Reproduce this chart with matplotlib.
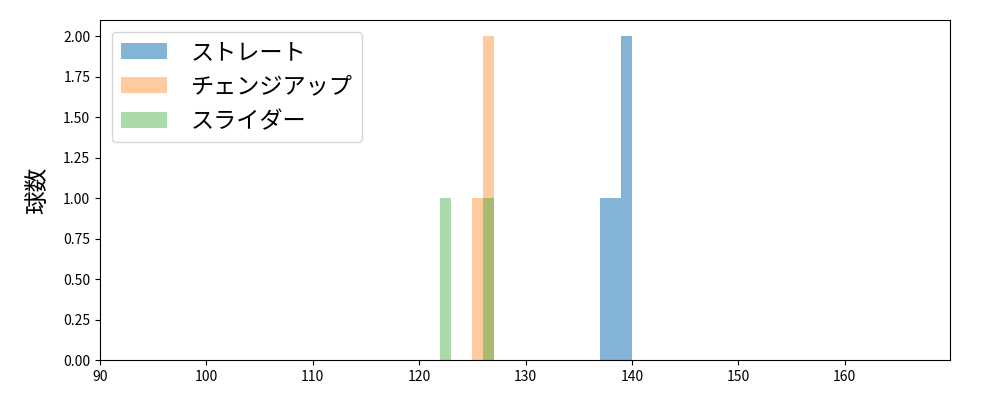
import numpy as np
import matplotlib
matplotlib.use("Agg")
import matplotlib.pyplot as plt

plt.rcParams['font.family'] = ['Noto Sans CJK JP', 'DejaVu Sans']

# pitch speeds (km/h) by pitch type
pitch_names = ["ストレート", "チェンジアップ", "スライダー"]
straight = [137.5, 138.5, 139.5, 139.6]
changeup = [125.5, 126.5, 126.6]
slider = [122.5, 126.5]
alphas = [0.55, 0.4, 0.4]

bins = np.arange(90, 171, 1)

fig, ax = plt.subplots(figsize=(10, 4), dpi=100)
for vals, name, a in zip([straight, changeup, slider], pitch_names, alphas):
    ax.hist(vals, bins=bins, alpha=a, label=name)

ax.set_xlim(90, 169.9)
ax.set_ylabel("球数", fontsize=17, labelpad=10)
ax.set_yticks(np.arange(0, 2.01, 0.25))
ax.legend(fontsize=16.7, loc="upper left", handletextpad=1.0)
fig.subplots_adjust(left=0.1, right=0.95, top=0.95, bottom=0.1)
fig.savefig("out.png")
